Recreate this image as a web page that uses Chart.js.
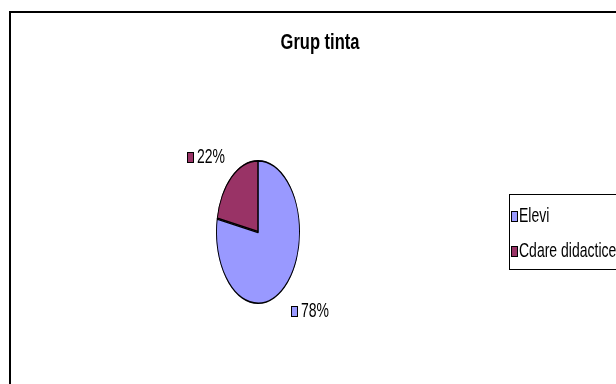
<!DOCTYPE html>
<html>
<head>
<meta charset="utf-8">
<script src="https://cdn.jsdelivr.net/npm/chart.js@4/dist/chart.umd.min.js"></script>
<style>
  html, body { margin: 0; padding: 0; background: #ffffff; }
  canvas { display: block; }
</style>
</head>
<body>
<canvas id="c" width="616" height="384"></canvas>
<script>
const chartTitle = 'Grup tinta';
const categories = ['Elevi', 'Cdare didactice'];
const shares = [78, 22];
const sliceColors = ['#9999FF', '#993366'];

const FONT = "'Liberation Sans', Arial, sans-serif";
const X_SQUASH = 42 / 72;   // pie is drawn as an upright ellipse
const TEXT_STRETCH = 1.38;  // text is tall and condensed

function pieGeometry(chart) {
  const arc = chart.getDatasetMeta(0).data[0];
  return { cx: arc.x, cy: arc.y, ry: arc.outerRadius, rx: arc.outerRadius * X_SQUASH };
}

// text drawn with a vertical stretch, vertically centred on y
function tallText(ctx, txt, x, y, font, stretch, align) {
  ctx.save();
  ctx.font = font;
  ctx.textAlign = align;
  ctx.textBaseline = 'middle';
  ctx.translate(x, y);
  ctx.scale(1, stretch);
  ctx.fillText(txt, 0, 0);
  ctx.restore();
}

function swatch(ctx, color, x, y) {
  ctx.fillStyle = color;
  ctx.fillRect(x + 0.5, y - 4.5, 6, 10);
  ctx.strokeStyle = '#000000';
  ctx.lineWidth = 1;
  ctx.strokeRect(x + 0.5, y - 4.5, 6, 10);
}

// outer frame + title
const framePlugin = {
  id: 'frame',
  beforeDraw(chart) {
    const ctx = chart.ctx;
    ctx.save();
    ctx.fillStyle = '#ffffff';
    ctx.fillRect(0, 0, chart.width, chart.height);
    ctx.strokeStyle = '#000000';
    ctx.lineWidth = 2;
    ctx.strokeRect(10, 12, chart.width + 20, chart.height + 20);
    ctx.restore();
  },
  afterDraw(chart) {
    const ctx = chart.ctx;
    ctx.fillStyle = '#000000';
    tallText(ctx, chartTitle, 320, 43, 'bold 16.5px ' + FONT, 1.3, 'center');
  }
};

// squeeze the round pie horizontally into an ellipse
const ellipsePlugin = {
  id: 'ellipse',
  beforeDatasetsDraw(chart) {
    const g = pieGeometry(chart);
    const ctx = chart.ctx;
    ctx.save();
    ctx.translate(g.cx, g.cy);
    ctx.scale(X_SQUASH, 1);
    ctx.translate(-g.cx, -g.cy);
  },
  afterDatasetsDraw(chart) {
    chart.ctx.restore();
  }
};

// percentage labels outside each slice, and the boxed legend
const labelPlugin = {
  id: 'sliceLabels',
  afterDatasetsDraw(chart) {
    const ctx = chart.ctx;
    const g = pieGeometry(chart);
    const ds = chart.data.datasets[0];
    const total = ds.data.reduce((a, b) => a + b, 0);
    const font = '14px ' + FONT;
    ctx.save();
    chart.getDatasetMeta(0).data.forEach((arc, i) => {
      const mid = (arc.startAngle + arc.endAngle) / 2;
      const c = Math.cos(mid), s = Math.sin(mid);
      const lx = g.cx + (g.rx + 40) * c;
      const ly = g.cy + (g.ry + 28) * s + 2;
      const txt = Math.round(ds.data[i] / total * 100) + '%';
      ctx.font = font;
      const w = 7 + 3 + ctx.measureText(txt).width;
      const x0 = Math.round(lx - w / 2);
      const y0 = Math.round(ly);
      swatch(ctx, ds.backgroundColor[i], x0, y0);
      ctx.fillStyle = '#000000';
      tallText(ctx, txt, x0 + 10, y0 + 1, font, TEXT_STRETCH, 'left');
    });

    // legend box
    ctx.strokeStyle = '#000000';
    ctx.lineWidth = 1;
    ctx.strokeRect(509.5, 194.5, 140, 75);
    chart.data.labels.forEach((lab, i) => {
      const y = 216 + i * 35;
      swatch(ctx, ds.backgroundColor[i], 511, y);
      ctx.fillStyle = '#000000';
      tallText(ctx, lab, 519, y + 1, font, TEXT_STRETCH, 'left');
    });
    ctx.restore();
  }
};

new Chart(document.getElementById('c'), {
  type: 'pie',
  data: {
    labels: categories,
    datasets: [{
      data: shares,
      backgroundColor: sliceColors,
      borderColor: '#000000',
      borderWidth: 1.3,
      borderAlign: 'inner'
    }]
  },
  options: {
    responsive: false,
    animation: false,
    devicePixelRatio: 1,
    layout: { padding: { left: 186, right: 286, top: 160, bottom: 80 } },
    plugins: {
      legend: { display: false },
      title: { display: false },
      tooltip: { enabled: false }
    }
  },
  plugins: [framePlugin, ellipsePlugin, labelPlugin]
});
</script>
</body>
</html>
